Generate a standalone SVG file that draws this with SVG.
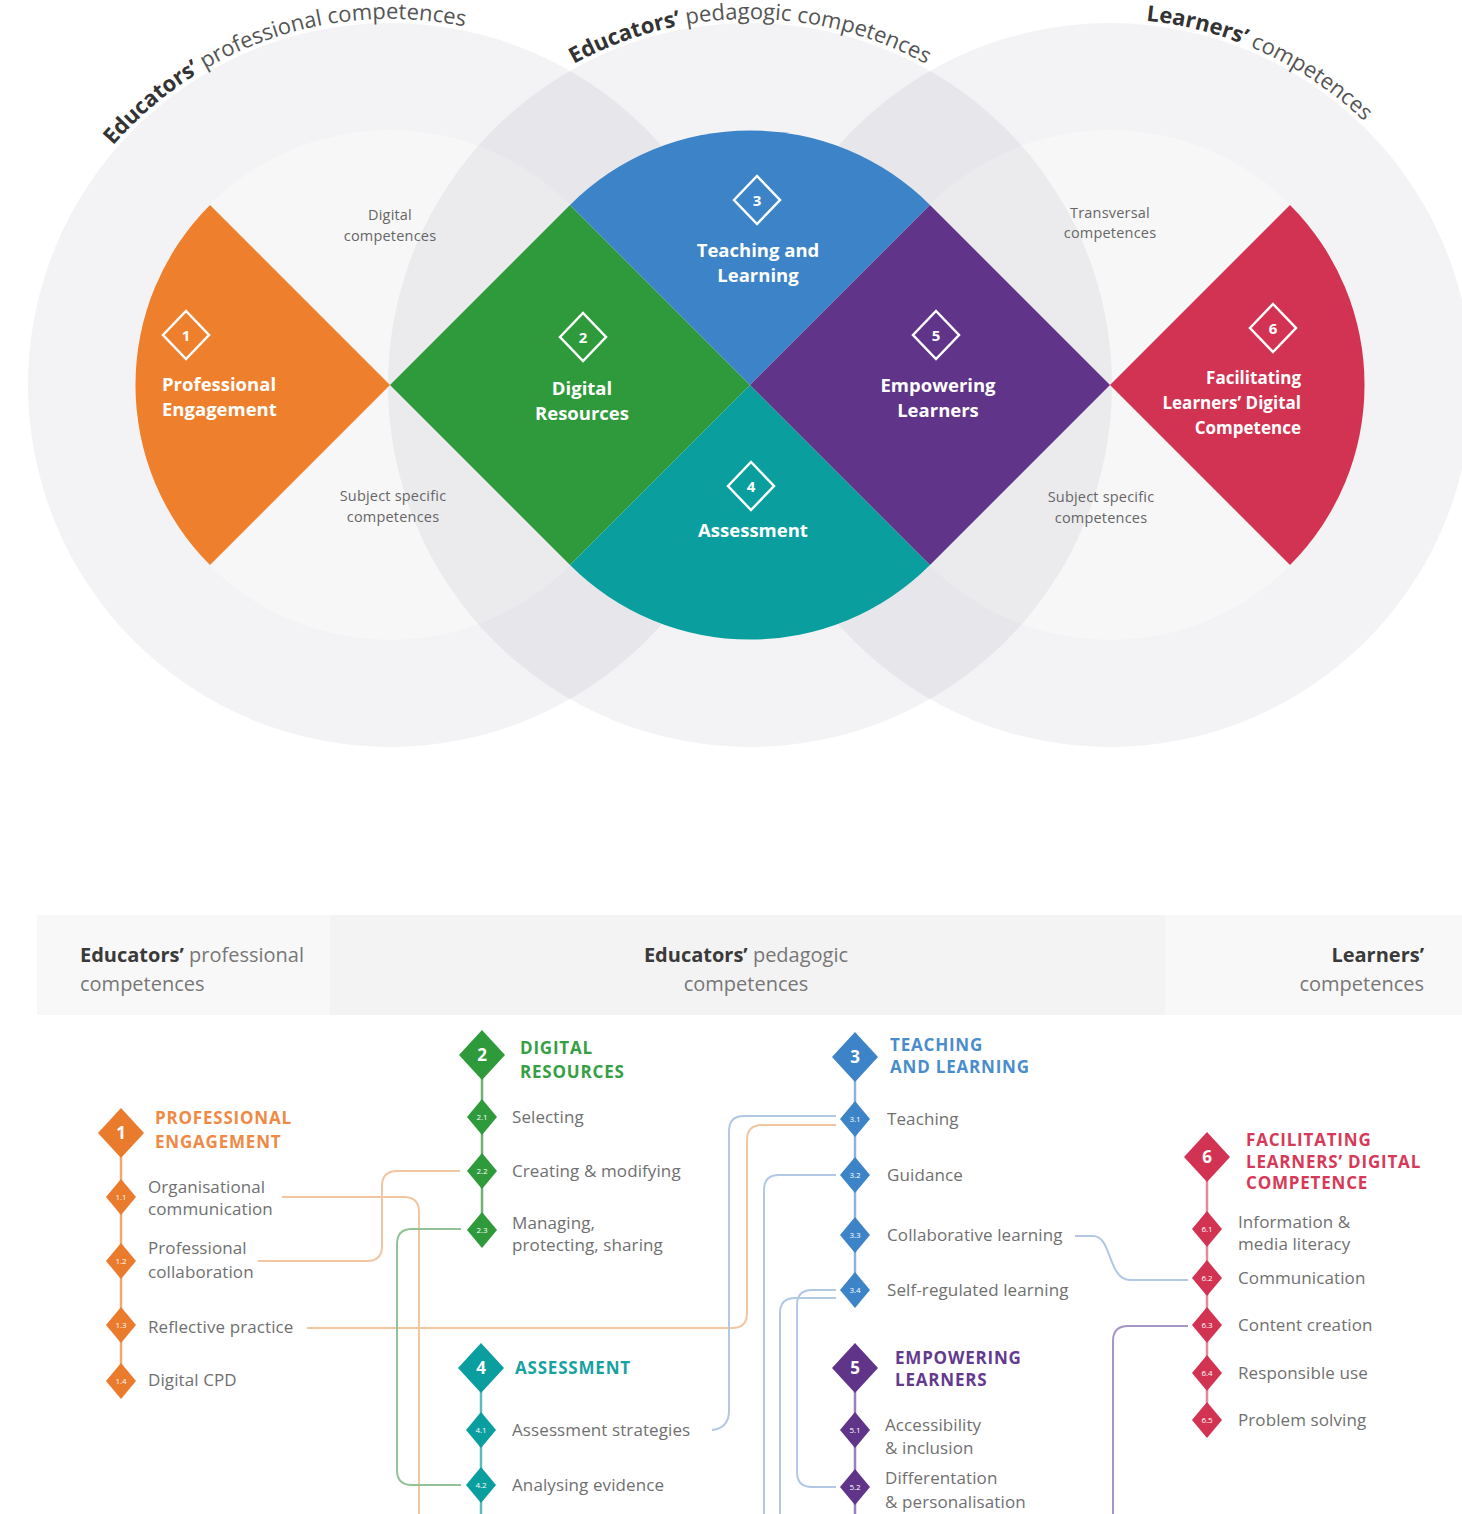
<svg xmlns="http://www.w3.org/2000/svg" xmlns:xlink="http://www.w3.org/1999/xlink" width="1462" height="1514" viewBox="0 0 1462 1514">
<style>
.ring{fill:#1e1e46;fill-opacity:.055;fill-rule:evenodd}
.inner{fill:#1e1e46;fill-opacity:.035}
.arc{font-family:"Open Sans","Noto Sans",sans-serif;font-size:22px;fill:#555}
.arc .b{font-weight:700;fill:#333}
.wl{font-family:"Open Sans","Noto Sans",sans-serif;font-weight:700;font-size:18.5px;fill:#fff;text-anchor:middle}
.wn{font-family:"Open Sans","Noto Sans",sans-serif;font-weight:700;font-size:15px;fill:#fff;text-anchor:middle}
.icon{fill:none;stroke:#fff;stroke-width:2.5}
.gl{font-family:"Open Sans","Noto Sans",sans-serif;font-size:14.5px;fill:#666;text-anchor:middle;letter-spacing:0.2px}
.hd{font-family:"Open Sans","Noto Sans",sans-serif;font-size:20px;fill:#777}
.hd .b{font-weight:700;fill:#3a3a3a}
.h{font-family:"Open Sans","Noto Sans",sans-serif;font-weight:700;font-size:17px;letter-spacing:0.8px}
.lb{font-family:"Open Sans","Noto Sans",sans-serif;font-size:17px;fill:#707070;letter-spacing:0.1px}
.sn{font-family:"Open Sans","Noto Sans",sans-serif;font-size:8px;fill:#fff;text-anchor:middle}
.bn{font-family:"Open Sans","Noto Sans",sans-serif;font-weight:700;font-size:17px;fill:#fff;text-anchor:middle}
.spine{fill:none;stroke-width:2.5}
.con{fill:none;stroke-width:2}
.co{stroke:#f3c6a2}.cb{stroke:#b2c8e4}.cg{stroke:#92c397}.cp{stroke:#a596c6}
</style>
<defs>
<path id="sd" d="M-15,0 L0,-18 L15,0 L0,18 Z"/>
<path id="bd" d="M-23,0 L0,-25 L23,0 L0,25 Z"/>
<path id="ic" d="M-23,0 L0,-24 L23,0 L0,24 Z"/>
<path id="arcL" d="M31.1,312.9 A366,366 0 0 1 631.6,110"/>
<path id="arcM" d="M433,202 A366,366 0 0 1 1067,202"/>
<path id="arcR" d="M899,86 A366,366 0 0 1 1474.6,351.8"/>
</defs>
<rect width="1462" height="1514" fill="#fff"/>

<g id="circles">
<path class="ring" d="M28,385 a362,362 0 1,0 724,0 a362,362 0 1,0 -724,0 Z M135,385 a255,255 0 1,0 510,0 a255,255 0 1,0 -510,0 Z"/>
<path class="ring" d="M388,385 a362,362 0 1,0 724,0 a362,362 0 1,0 -724,0 Z M495,385 a255,255 0 1,0 510,0 a255,255 0 1,0 -510,0 Z"/>
<path class="ring" d="M748,385 a362,362 0 1,0 724,0 a362,362 0 1,0 -724,0 Z M855,385 a255,255 0 1,0 510,0 a255,255 0 1,0 -510,0 Z"/>
<circle class="inner" cx="390" cy="385" r="255"/>
<circle class="inner" cx="750" cy="385" r="255"/>
<circle class="inner" cx="1110" cy="385" r="255"/>
</g>

<g id="arc-titles">
<text class="arc"><textPath href="#arcL" xlink:href="#arcL" startOffset="50%" text-anchor="middle"><tspan class="b">Educators’</tspan> professional competences</textPath></text>
<text class="arc"><textPath href="#arcM" xlink:href="#arcM" startOffset="50%" text-anchor="middle"><tspan class="b">Educators’</tspan> pedagogic competences</textPath></text>
<text class="arc"><textPath href="#arcR" xlink:href="#arcR" startOffset="50%" text-anchor="middle"><tspan class="b">Learners’</tspan> competences</textPath></text>
</g>

<g id="ring-labels">
<text class="gl" x="390" y="220">Digital</text>
<text class="gl" x="390" y="241">competences</text>
<text class="gl" x="393" y="501">Subject specific</text>
<text class="gl" x="393" y="522">competences</text>
<text class="gl" x="1110" y="218">Transversal</text>
<text class="gl" x="1110" y="238">competences</text>
<text class="gl" x="1101" y="502">Subject specific</text>
<text class="gl" x="1101" y="523">competences</text>
</g>

<g id="area-1">
<path d="M390,385 L210,205 A254.6,254.6 0 0 0 210,565 Z" fill="#ee7f2d"/>
<use href="#ic" xlink:href="#ic" x="186" y="335" class="icon"/>
<text class="wn" x="186" y="341">1</text>
<text class="wl" x="162" y="391" style="text-anchor:start">Professional</text>
<text class="wl" x="162" y="416" style="text-anchor:start">Engagement</text>
</g>
<g id="area-2">
<path d="M390,385 L570,205 L750,385 L570,565 Z" fill="#2e9a3b"/>
<use href="#ic" xlink:href="#ic" x="583" y="337" class="icon"/>
<text class="wn" x="583" y="343">2</text>
<text class="wl" x="582" y="395">Digital</text>
<text class="wl" x="582" y="420">Resources</text>
</g>
<g id="area-3">
<path d="M750,385 L570,205 A254.6,254.6 0 0 1 930,205 Z" fill="#3d83c7"/>
<use href="#ic" xlink:href="#ic" x="757" y="200" class="icon"/>
<text class="wn" x="757" y="206">3</text>
<text class="wl" x="758" y="257">Teaching and</text>
<text class="wl" x="758" y="282">Learning</text>
</g>
<g id="area-4">
<path d="M750,385 L930,565 A254.6,254.6 0 0 1 570,565 Z" fill="#0a9e9e"/>
<use href="#ic" xlink:href="#ic" x="751" y="486" class="icon"/>
<text class="wn" x="751" y="492">4</text>
<text class="wl" x="753" y="537">Assessment</text>
</g>
<g id="area-5">
<path d="M750,385 L930,205 L1110,385 L930,565 Z" fill="#5f3489"/>
<use href="#ic" xlink:href="#ic" x="936" y="335" class="icon"/>
<text class="wn" x="936" y="341">5</text>
<text class="wl" x="938" y="392">Empowering</text>
<text class="wl" x="938" y="417">Learners</text>
</g>
<g id="area-6">
<path d="M1110,385 L1290,205 A254.6,254.6 0 0 1 1290,565 Z" fill="#d33352"/>
<use href="#ic" xlink:href="#ic" x="1273" y="328" class="icon"/>
<text class="wn" x="1273" y="334">6</text>
<text class="wl" x="1301" y="384" style="text-anchor:end;font-size:17px">Facilitating</text>
<text class="wl" x="1301" y="409" style="text-anchor:end;font-size:17px">Learners’ Digital</text>
<text class="wl" x="1301" y="434" style="text-anchor:end;font-size:17px">Competence</text>
</g>

<g id="header">
<rect x="37" y="915" width="293" height="100" fill="#f8f8f8"/>
<rect x="330" y="915" width="835" height="100" fill="#f3f3f3"/>
<rect x="1165" y="915" width="297" height="100" fill="#f8f8f8"/>
<text class="hd" x="80" y="962"><tspan class="b">Educators’</tspan> professional</text>
<text class="hd" x="80" y="991">competences</text>
<text class="hd" x="746" y="962" text-anchor="middle"><tspan class="b">Educators’</tspan> pedagogic</text>
<text class="hd" x="746" y="991" text-anchor="middle">competences</text>
<text class="hd" x="1424" y="962" text-anchor="end"><tspan class="b">Learners’</tspan></text>
<text class="hd" x="1424" y="991" text-anchor="end">competences</text>
</g>

<g id="connectors">
<path class="spine" stroke="#f0a870" d="M121,1133 V1381"/>
<path class="spine" stroke="#6db273" d="M482,1055 V1230"/>
<path class="spine" stroke="#5cbcbc" d="M481,1368 V1514"/>
<path class="spine" stroke="#8ab4de" d="M855,1057 V1290"/>
<path class="spine" stroke="#9a7fbd" d="M855,1368 V1514"/>
<path class="spine" stroke="#e7889b" d="M1207,1157 V1420"/>
<path class="con co" d="M282,1197 H404 Q419,1197 419,1212 V1514"/>
<path class="con co" d="M258,1261 H367 Q382,1261 382,1246 V1186 Q382,1171 397,1171 H460"/>
<path class="con co" d="M307,1328 H732 Q747,1328 747,1313 V1140 Q747,1125 762,1125 H836"/>
<path class="con cb" d="M712,1430 Q729,1428 729,1411 V1131 Q729,1116 744,1116 H836"/>
<path class="con cb" d="M836,1175 H779 Q764,1175 764,1190 V1514"/>
<path class="con cb" d="M836,1290 H812 Q797,1290 797,1305 V1472 Q797,1487 812,1487 H836"/>
<path class="con cb" d="M836,1298 H795 Q780,1298 780,1313 V1514"/>
<path class="con cb" d="M1075,1236 H1093 C1112,1236 1108,1280 1130,1280 H1188"/>
<path class="con cp" d="M1188,1326 H1128 Q1113,1326 1113,1341 V1514"/>
<path class="con cg" d="M461,1229 H412 Q397,1229 397,1244 V1470 Q397,1485 412,1485 H461"/>
</g>

<g id="comp-1">
<use href="#bd" xlink:href="#bd" x="121" y="1133" fill="#ea7a2c"/>
<text class="bn" x="121" y="1139">1</text>
<text class="h" x="155" y="1124" fill="#ee8a45">PROFESSIONAL</text>
<text class="h" x="155" y="1148" fill="#ee8a45">ENGAGEMENT</text>
<use href="#sd" xlink:href="#sd" x="121" y="1197" fill="#ea7a2c"/><text class="sn" x="121" y="1200">1.1</text>
<use href="#sd" xlink:href="#sd" x="121" y="1261" fill="#ea7a2c"/><text class="sn" x="121" y="1264">1.2</text>
<use href="#sd" xlink:href="#sd" x="121" y="1325" fill="#ea7a2c"/><text class="sn" x="121" y="1328">1.3</text>
<use href="#sd" xlink:href="#sd" x="121" y="1381" fill="#ea7a2c"/><text class="sn" x="121" y="1384">1.4</text>
<text class="lb" x="148" y="1193">Organisational</text>
<text class="lb" x="148" y="1215">communication</text>
<text class="lb" x="148" y="1254">Professional</text>
<text class="lb" x="148" y="1278">collaboration</text>
<text class="lb" x="148" y="1333">Reflective practice</text>
<text class="lb" x="148" y="1386">Digital CPD</text>
</g>

<g id="comp-2">
<use href="#bd" xlink:href="#bd" x="482" y="1055" fill="#2e9a3b"/>
<text class="bn" x="482" y="1061">2</text>
<text class="h" x="520" y="1054" fill="#35a043">DIGITAL</text>
<text class="h" x="520" y="1078" fill="#35a043">RESOURCES</text>
<use href="#sd" xlink:href="#sd" x="482" y="1117" fill="#2e9a3b"/><text class="sn" x="482" y="1120">2.1</text>
<use href="#sd" xlink:href="#sd" x="482" y="1171" fill="#2e9a3b"/><text class="sn" x="482" y="1174">2.2</text>
<use href="#sd" xlink:href="#sd" x="482" y="1230" fill="#2e9a3b"/><text class="sn" x="482" y="1233">2.3</text>
<text class="lb" x="512" y="1123">Selecting</text>
<text class="lb" x="512" y="1177">Creating &amp; modifying</text>
<text class="lb" x="512" y="1229">Managing,</text>
<text class="lb" x="512" y="1251">protecting, sharing</text>
</g>

<g id="comp-4">
<use href="#bd" xlink:href="#bd" x="481" y="1368" fill="#0a9e9e"/>
<text class="bn" x="481" y="1374">4</text>
<text class="h" x="515" y="1374" fill="#17a2a2">ASSESSMENT</text>
<use href="#sd" xlink:href="#sd" x="481" y="1430" fill="#0a9e9e"/><text class="sn" x="481" y="1433">4.1</text>
<use href="#sd" xlink:href="#sd" x="481" y="1485" fill="#0a9e9e"/><text class="sn" x="481" y="1488">4.2</text>
<text class="lb" x="512" y="1436">Assessment strategies</text>
<text class="lb" x="512" y="1491">Analysing evidence</text>
</g>

<g id="comp-3">
<use href="#bd" xlink:href="#bd" x="855" y="1057" fill="#3d83c7"/>
<text class="bn" x="855" y="1063">3</text>
<text class="h" x="890" y="1051" fill="#4a8dcc">TEACHING</text>
<text class="h" x="890" y="1073" fill="#4a8dcc">AND LEARNING</text>
<use href="#sd" xlink:href="#sd" x="855" y="1119" fill="#3d83c7"/><text class="sn" x="855" y="1122">3.1</text>
<use href="#sd" xlink:href="#sd" x="855" y="1175" fill="#3d83c7"/><text class="sn" x="855" y="1178">3.2</text>
<use href="#sd" xlink:href="#sd" x="855" y="1235" fill="#3d83c7"/><text class="sn" x="855" y="1238">3.3</text>
<use href="#sd" xlink:href="#sd" x="855" y="1290" fill="#3d83c7"/><text class="sn" x="855" y="1293">3.4</text>
<text class="lb" x="887" y="1125">Teaching</text>
<text class="lb" x="887" y="1181">Guidance</text>
<text class="lb" x="887" y="1241">Collaborative learning</text>
<text class="lb" x="887" y="1296">Self-regulated learning</text>
</g>

<g id="comp-5">
<use href="#bd" xlink:href="#bd" x="855" y="1368" fill="#5f3489"/>
<text class="bn" x="855" y="1374">5</text>
<text class="h" x="895" y="1364" fill="#643a8e">EMPOWERING</text>
<text class="h" x="895" y="1386" fill="#643a8e">LEARNERS</text>
<use href="#sd" xlink:href="#sd" x="855" y="1430" fill="#5f3489"/><text class="sn" x="855" y="1433">5.1</text>
<use href="#sd" xlink:href="#sd" x="855" y="1487" fill="#5f3489"/><text class="sn" x="855" y="1490">5.2</text>
<text class="lb" x="885" y="1431">Accessibility</text>
<text class="lb" x="885" y="1454">&amp; inclusion</text>
<text class="lb" x="885" y="1484">Differentation</text>
<text class="lb" x="885" y="1508">&amp; personalisation</text>
</g>

<g id="comp-6">
<use href="#bd" xlink:href="#bd" x="1207" y="1157" fill="#d33352"/>
<text class="bn" x="1207" y="1163">6</text>
<text class="h" x="1246" y="1146" fill="#d63a58">FACILITATING</text>
<text class="h" x="1246" y="1168" fill="#d63a58">LEARNERS’ DIGITAL</text>
<text class="h" x="1246" y="1189" fill="#d63a58">COMPETENCE</text>
<use href="#sd" xlink:href="#sd" x="1207" y="1229" fill="#d33352"/><text class="sn" x="1207" y="1232">6.1</text>
<use href="#sd" xlink:href="#sd" x="1207" y="1278" fill="#d33352"/><text class="sn" x="1207" y="1281">6.2</text>
<use href="#sd" xlink:href="#sd" x="1207" y="1325" fill="#d33352"/><text class="sn" x="1207" y="1328">6.3</text>
<use href="#sd" xlink:href="#sd" x="1207" y="1373" fill="#d33352"/><text class="sn" x="1207" y="1376">6.4</text>
<use href="#sd" xlink:href="#sd" x="1207" y="1420" fill="#d33352"/><text class="sn" x="1207" y="1423">6.5</text>
<text class="lb" x="1238" y="1228">Information &amp;</text>
<text class="lb" x="1238" y="1250">media literacy</text>
<text class="lb" x="1238" y="1284">Communication</text>
<text class="lb" x="1238" y="1331">Content creation</text>
<text class="lb" x="1238" y="1379">Responsible use</text>
<text class="lb" x="1238" y="1426">Problem solving</text>
</g>
</svg>
